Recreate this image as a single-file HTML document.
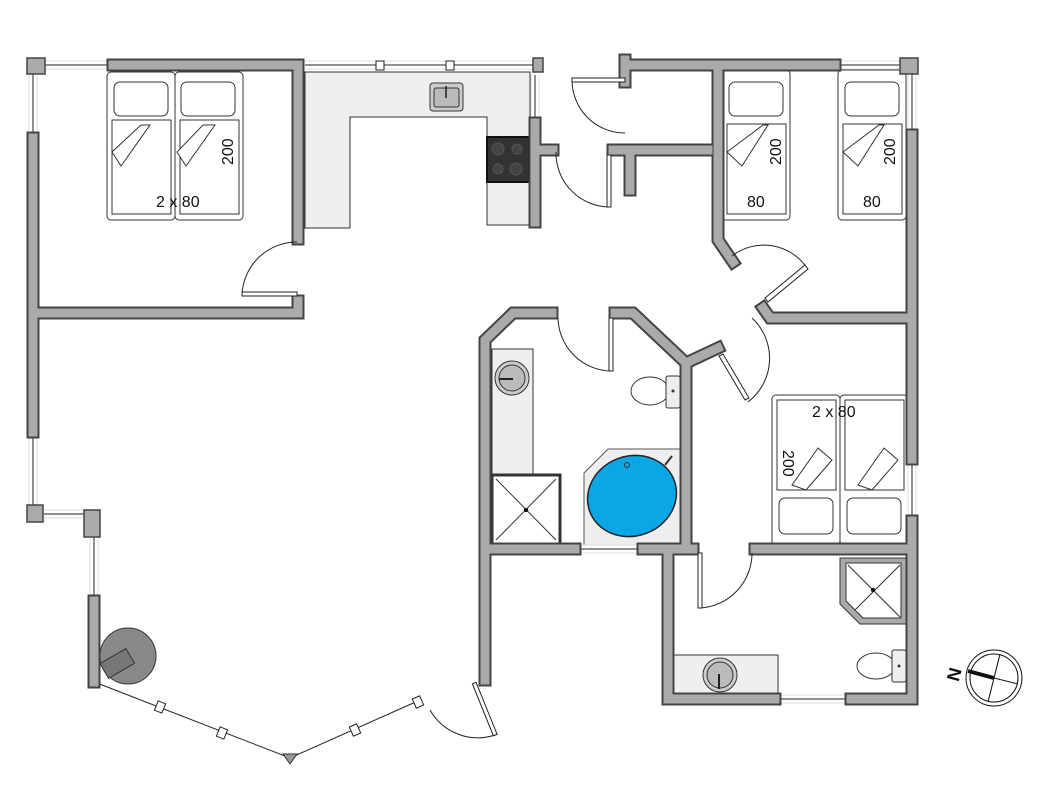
<!DOCTYPE html>
<html><head><meta charset="utf-8"><style>
html,body{margin:0;padding:0;background:#fff;}
svg{display:block;font-family:"Liberation Sans",sans-serif;}
</style></head><body>
<svg width="1064" height="808" viewBox="0 0 1064 808" xmlns="http://www.w3.org/2000/svg">

<!-- kitchen counter -->
<path d="M305 72 H530 V225 H487 V117 H350 V228 H305 Z" fill="#efefef" stroke="#333" stroke-width="1"/>
<rect x="430" y="83" width="33" height="28" rx="3" fill="#ccc" stroke="#333"/>
<rect x="434" y="88" width="25" height="19" rx="2" fill="#bbb" stroke="#333"/>
<line x1="446" y1="86" x2="446" y2="98" stroke="#222" stroke-width="1.5"/>
<rect x="487" y="137" width="42" height="45" fill="#333" stroke="#111" stroke-width="2"/>
<circle cx="498" cy="149" r="6" fill="#444" stroke="#555"/><circle cx="517" cy="149" r="5" fill="#444" stroke="#555"/>
<circle cx="498" cy="169" r="5" fill="#444" stroke="#555"/><circle cx="516" cy="169" r="6" fill="#444" stroke="#555"/>

<!-- bathroom counters -->
<rect x="492" y="349" width="41" height="126" fill="#efefef" stroke="#333"/>
<circle cx="512" cy="378" r="17" fill="#ccc" stroke="#333"/><circle cx="512" cy="378" r="13" fill="#bbb" stroke="#333"/>
<line x1="499" y1="379" x2="513" y2="379" stroke="#222" stroke-width="2"/>
<rect x="492" y="475" width="68" height="69" fill="#fff" stroke="#333" stroke-width="3"/>
<line x1="496" y1="479" x2="556" y2="540" stroke="#333"/><line x1="556" y1="479" x2="496" y2="540" stroke="#333"/>
<circle cx="526" cy="510" r="2" fill="#000"/>
<!-- bathtub -->
<path d="M608 449 H680 V545 H584 V473 Z" fill="#eee" stroke="#555"/>
<ellipse cx="632" cy="496" rx="45" ry="40" transform="rotate(-20 632 496)" fill="#0aa6e6" stroke="#222" stroke-width="1.5"/>
<circle cx="627" cy="465" r="2.5" fill="none" stroke="#333"/>
<line x1="665" y1="465" x2="672" y2="456" stroke="#333" stroke-width="2"/>
<!-- toilet 1 -->
<ellipse cx="650" cy="391" rx="19" ry="14" fill="#fff" stroke="#333"/>
<rect x="666" y="376" width="14" height="32" rx="2" fill="#eee" stroke="#333"/>
<circle cx="673" cy="391" r="1.5" fill="#333"/>

<!-- lower bath fixtures -->
<rect x="673" y="655" width="105" height="40" fill="#efefef" stroke="#333"/>
<circle cx="720" cy="675" r="17" fill="#ccc" stroke="#333"/><circle cx="720" cy="675" r="13" fill="#bbb" stroke="#333"/>
<line x1="719" y1="674" x2="719" y2="689" stroke="#222" stroke-width="2"/>
<path d="M840 558 H906 V624 H860 L840 604 Z" fill="#aaa" stroke="#333"/>
<path d="M846 563 H901 V618 H863 L846 601 Z" fill="#fff" stroke="#333"/>
<line x1="848" y1="565" x2="900" y2="617" stroke="#333"/><line x1="900" y1="565" x2="855" y2="610" stroke="#333"/>
<circle cx="873" cy="590" r="2" fill="#000"/>
<ellipse cx="876" cy="666" rx="19" ry="13" fill="#fff" stroke="#333"/>
<rect x="892" y="650" width="14" height="32" rx="2" fill="#eee" stroke="#333"/>
<circle cx="899" cy="666" r="1.5" fill="#333"/>

<!-- beds -->
<g fill="#fff" stroke="#333" stroke-width="1">
<rect x="107" y="72" width="68" height="148" rx="4"/><rect x="112" y="120" width="59" height="94"/>
<rect x="114" y="82" width="54" height="34" rx="6"/>
<rect x="175" y="72" width="68" height="148" rx="4"/><rect x="180" y="120" width="59" height="94"/>
<rect x="181" y="82" width="54" height="34" rx="6"/>
<path d="M141 125 L112 152 L121 166 L150 125 Z"/><path d="M203 125 L177 152 L186 166 L215 125 Z"/>
<rect x="722" y="70" width="68" height="150" rx="4"/><rect x="727" y="124" width="59" height="90"/>
<rect x="729" y="82" width="54" height="34" rx="6"/>
<path d="M763 125 L727 152 L742 166 L768 125 Z"/>
<rect x="838" y="70" width="68" height="150" rx="4"/><rect x="843" y="124" width="59" height="90"/>
<rect x="845" y="82" width="54" height="34" rx="6"/>
<path d="M879 125 L843 152 L858 166 L884 125 Z"/>
<rect x="772" y="395" width="68" height="150" rx="4"/><rect x="777" y="400" width="59" height="90"/>
<rect x="779" y="498" width="54" height="36" rx="6"/>
<path d="M818 448 L792 485 L806 490 L832 460 Z"/>
<rect x="840" y="395" width="68" height="150" rx="4"/><rect x="845" y="400" width="59" height="90"/>
<rect x="847" y="498" width="54" height="36" rx="6"/>
<path d="M884 448 L858 485 L872 490 L898 460 Z"/>
</g>
<g font-size="16" fill="#111">
<text x="156" y="207">2 x 80</text>
<text x="233" y="165" transform="rotate(-90 233 165)">200</text>
<text x="747" y="207">80</text><text x="863" y="207">80</text>
<text x="781" y="165" transform="rotate(-90 781 165)">200</text>
<text x="895" y="165" transform="rotate(-90 895 165)">200</text>
<text x="812" y="417">2 x 80</text>
<text x="783" y="450" transform="rotate(90 783 450)">200</text>
</g>

<!-- stove -->
<circle cx="128" cy="656" r="28" fill="#888" stroke="#333"/>
<rect x="102" y="655" width="30" height="17" transform="rotate(-30 117 663)" fill="#777" stroke="#333"/>

<!-- windows -->
<g stroke="#ddd" stroke-width="1" fill="none">
<path d="M45 61 H110 M45 69 H110 M305 61 H535 M305 69 H535 M838 61 H900 M838 69 H900 M29 74 V135 M37 74 V135 M29 435 V505 M37 435 V505 M44 510 H84 M44 518 H84 M90 537 V598 M98 537 V598 M531 75 V120 M539 75 V120 M908 74 V132 M916 74 V132 M908 462 V518 M916 462 V518 M578 545 H640 M578 553 H640 M778 695 H848 M778 703 H848"/>
</g>
<g stroke="#222" stroke-width="1" fill="none">
<path d="M45 65 H110 M305 65 H535 M838 65 H900 M33 74 V135 M33 435 V505 M44 514 H84 M94 537 V598 M535 75 V120 M912 74 V132 M912 462 V518 M578 549 H640 M778 699 H848"/>
<path d="M97 683 L290 758 L420 700"/>
</g>
<g fill="#fff" stroke="#222" stroke-width="1">
<rect x="376" y="61" width="8" height="9"/><rect x="446" y="61" width="8" height="9"/>
<rect x="156" y="702" width="8" height="10" transform="rotate(22 160 707)"/>
<rect x="218" y="728" width="8" height="10" transform="rotate(22 222 733)"/>
<rect x="351" y="725" width="8" height="10" transform="rotate(-24 355 730)"/>
<rect x="414" y="697" width="8" height="10" transform="rotate(-24 418 702)"/>
</g>
<path d="M283 754 L297 754 L290 764 Z" fill="#999" stroke="#333"/>

<!-- walls -->
<g fill="none" stroke-linejoin="miter" stroke-linecap="square">
<g stroke="#444" stroke-width="13">
<path d="M113 65 H298 V239 M298 301 V313 H33 M33 138 V432"/>
<path d="M94 601 V682"/>
<path d="M485 680 V340 L513 313 H552 M615 313 H633 L686 363 V549 H643 M575 549 H490"/>
<path d="M686 363 L718 348"/>
<path d="M535 123 V222 M535 150 H553"/>
<path d="M625 60 V82 M625 65 H835 M718 65 V240 L733 262 M613 150 H708 M630 150 V190"/>
<path d="M763 308 L770 318 H912 M912 135 V459 M912 521 V699 H851 M775 699 H668 V549 H693 M755 549 H912"/>
</g>
<g stroke="#aaa" stroke-width="9">
<path d="M113 65 H298 V239 M298 301 V313 H33 M33 138 V432"/>
<path d="M94 601 V682"/>
<path d="M485 680 V340 L513 313 H552 M615 313 H633 L686 363 V549 H643 M575 549 H490"/>
<path d="M686 363 L718 348"/>
<path d="M535 123 V222 M535 150 H553"/>
<path d="M625 60 V82 M625 65 H835 M718 65 V240 L733 262 M613 150 H708 M630 150 V190"/>
<path d="M763 308 L770 318 H912 M912 135 V459 M912 521 V699 H851 M775 699 H668 V549 H693 M755 549 H912"/>
</g>
</g>
<g fill="#aaa" stroke="#444" stroke-width="1.5">
<rect x="27" y="58" width="18" height="16"/><rect x="900" y="58" width="18" height="16"/>
<rect x="27" y="505" width="16" height="17"/><rect x="84" y="510" width="16" height="27"/>
<rect x="533" y="58" width="10" height="14"/>
</g>

<!-- doors -->
<g fill="none" stroke="#222" stroke-width="1">
<path d="M242 295 A55 55 0 0 1 297 242"/><rect x="242" y="292" width="55" height="4" fill="#fff"/>
<path d="M572 80 A53 53 0 0 0 625 133"/><rect x="572" y="78" width="53" height="4" fill="#fff"/>
<path d="M556 152 A54 54 0 0 0 610 207"/><rect x="607" y="155" width="4" height="52" fill="#fff"/>
<path d="M558 318 A54 54 0 0 0 612 371"/><rect x="609" y="318" width="4" height="53" fill="#fff"/>
<path d="M732 256 A52 52 0 0 1 807 268"/><path d="M765 298 L805 265 L808 269 L768 302 Z" fill="#fff"/>
<path d="M752 318 A55 55 0 0 1 748 402"/><path d="M719 356 L745 400 L749 398 L723 354 Z" fill="#fff"/>
<path d="M700 608 A55 55 0 0 0 752 553"/><rect x="698" y="553" width="4" height="55" fill="#fff"/>
<path d="M430 710 A55 55 0 0 0 495 735"/><rect x="473" y="683" width="4" height="56" transform="rotate(-22 475 685)" fill="#fff"/>
</g>

<!-- compass -->
<g stroke="#111" fill="none">
<circle cx="994" cy="678" r="28" stroke-width="1"/><circle cx="994" cy="678" r="24" stroke-width="1"/>
<line x1="1000" y1="654" x2="988" y2="702"/><line x1="970" y1="672" x2="1018" y2="684"/>
<line x1="968" y1="671" x2="994" y2="678" stroke-width="4"/>
</g>
<text x="946" y="678" font-size="18" font-weight="bold" transform="rotate(-75 955 672)" fill="#111">N</text>
</svg>
</body></html>
